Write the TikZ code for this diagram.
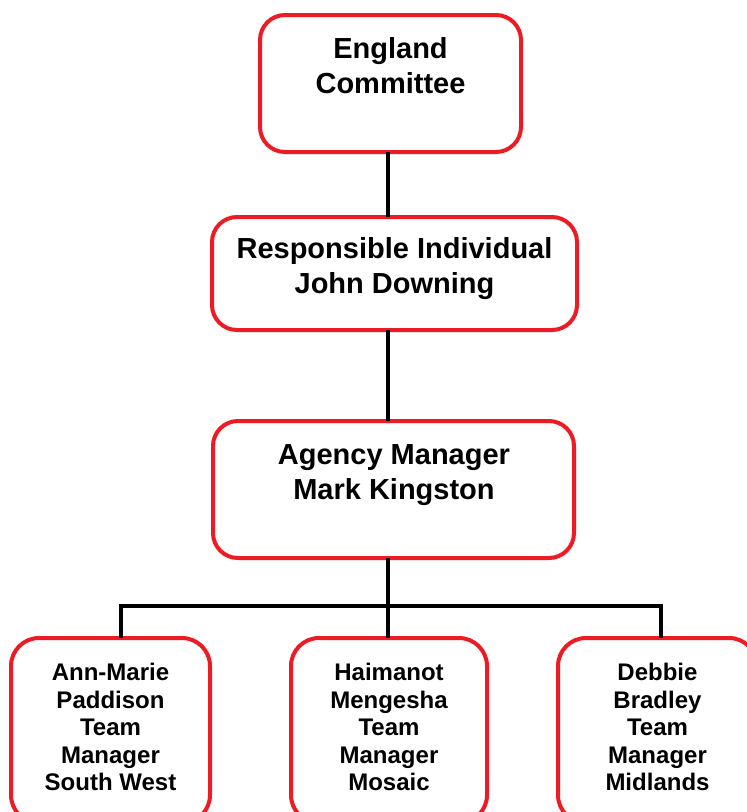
\documentclass[tikz,border=0pt]{standalone}
\usepackage{fontspec}
\setmainfont{Liberation Sans}
\definecolor{boxred}{RGB}{237,28,36}
\begin{document}
\begin{tikzpicture}[x=1pt,y=-1pt,
  box/.style={draw=boxred, line width=4pt, rounded corners=#1, fill=white, inner sep=0pt, outer sep=0pt},
  box/.default=25pt,
  bigtxt/.style={align=center, inner sep=0pt, anchor=north, font=\bfseries\fontsize{29}{35}\selectfont},
  smalltxt/.style={align=center, inner sep=0pt, anchor=north, font=\bfseries\fontsize{24}{27.5}\selectfont},
  conn/.style={draw=black, line width=4pt}]
\useasboundingbox (0,0) rectangle (747,812);
\fill[white] (0,0) rectangle (747,812);
% boxes
\node[box, minimum width=261pt, minimum height=137pt] (eng) at (390.5,83.5) {};
\node[box, minimum width=365pt, minimum height=113pt] (ri) at (394.5,273.5) {};
\node[box, minimum width=361pt, minimum height=137pt] (am) at (393.5,489.5) {};
\node[box=28pt, minimum width=199pt, minimum height=185pt] (t1) at (110.5,730.5) {};
\node[box=28pt, minimum width=196pt, minimum height=185pt] (t2) at (389,730.5) {};
\node[box=28pt, minimum width=199pt, minimum height=185pt] (t3) at (657.5,730.5) {};
% texts
\node[bigtxt] (engT) at (390.5,37) {England\\Committee};
\node[bigtxt] (riT) at (394.5,237.5) {Responsible Individual\\John Downing};
\node[bigtxt] (amT) at (394,444) {Agency Manager\\Mark Kingston};
\node[smalltxt] (t1T) at (110.5,663) {Ann-Marie\\Paddison\\Team\\Manager\\South West};
\node[smalltxt] (t2T) at (389,663) {Haimanot\\Mengesha\\Team\\Manager\\Mosaic};
\node[smalltxt] (t3T) at (657.5,663) {Debbie\\Bradley\\Team\\Manager\\Midlands};
% connectors
\coordinate (spine) at (388,0);
\coordinate (bL) at (121,606);
\coordinate (bR) at (661,606);
\draw[conn] (eng.south -| spine) -- (ri.north -| spine);
\draw[conn] (ri.south -| spine) -- (am.north -| spine);
\draw[conn] (am.south -| spine) -- (t2.north -| spine);
\draw[conn] (t1.north -| bL) -- (bL) -- (bR) -- (t3.north -| bR);
\end{tikzpicture}
\end{document}
